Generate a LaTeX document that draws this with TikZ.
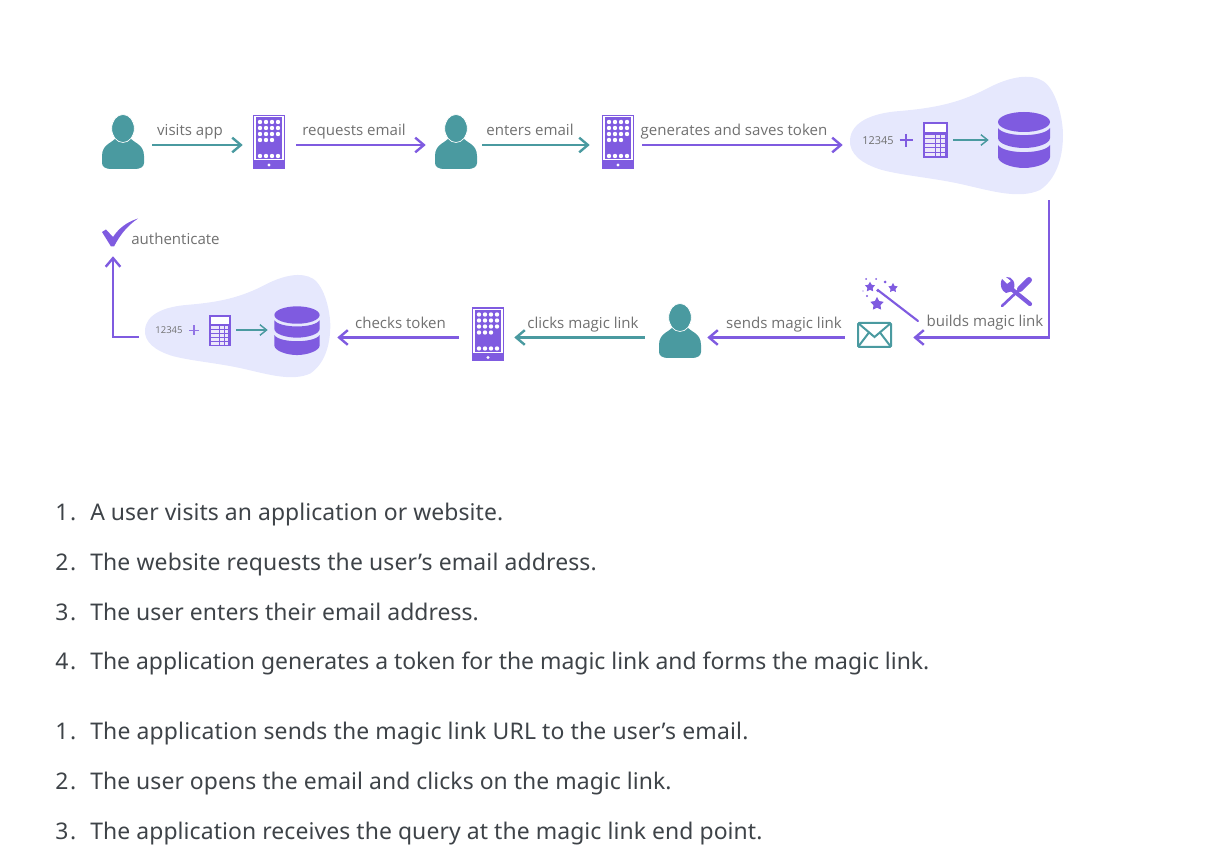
\documentclass[tikz,border=0pt]{standalone}
\usepackage{fontspec}
\setmainfont{Open Sans}
\newfontfamily\listfont{Noto Sans}
\usetikzlibrary{arrows.meta,shapes.geometric}
\definecolor{teal1}{HTML}{4A9AA0}
\definecolor{purp}{HTML}{7F5BE0}
\definecolor{blobc}{HTML}{E6E8FD}
\definecolor{gtext}{HTML}{707070}
\definecolor{ltext}{HTML}{3E4348}
\tikzset{
 x=0.75pt,y=-0.75pt,
 lab/.style={font=\fontsize{11.3}{14}\selectfont,text=gtext,inner sep=0pt,anchor=base},
 tiplab/.style={font=\fontsize{8.2}{9}\selectfont,text=gtext,inner sep=0pt},
 parr/.style={draw=purp,line width=2.1pt,-{Straight Barb[length=6.5pt,width=11pt,line width=1.8pt]}},
 tarr/.style={draw=teal1,line width=2.1pt,-{Straight Barb[length=6.5pt,width=11pt,line width=1.8pt]}},
 marr/.style={draw=teal1,line width=1.2pt,-{Straight Barb[length=5pt,width=8pt,line width=1.1pt]}},
 anchorpt/.style={inner sep=0pt,minimum size=0pt},
 listnum/.style={font=\listfont\fontsize{17.2}{20}\selectfont\addfontfeature{LetterSpace=8},text=ltext,inner sep=0pt,anchor=base west},
 listtxt/.style={font=\listfont\fontsize{17.2}{20}\selectfont,text=ltext,inner sep=0pt,anchor=base west},
 person/.pic={
  \fill[teal1] (-7,7) .. controls (-9,13) and (-21,13) .. (-21,26) -- (-21,33) .. controls (-21,37) and (-17,39) .. (-12,39) -- (12,39) .. controls (17,39) and (21,37) .. (21,33) -- (21,26) .. controls (21,13) and (9,13) .. (7,7) -- cycle;
  \filldraw[fill=teal1,draw=white,line width=0.5pt] (0,-1.5) ellipse [x radius=11.3,y radius=14];
 },
 tablet/.pic={
  \fill[purp] (-16,-27) rectangle (16,27);
  \fill[white] (-14.6,-25.6) rectangle (14.6,18.5);
  \fill[purp] (-13.4,-24.6) rectangle (13.4,17.5);
  \foreach \r in {0,1,2}{\foreach \c in {0,1,2,3}{\fill[white] (-9+\c*6,-20+\r*6) circle (2.2);}}
  \foreach \c in {0,1,2}{\fill[white] (-9+\c*6,-2) circle (2.2);}
  \foreach \c in {0,1,2,3}{\fill[white] (-9+\c*6,14) circle (2.2);}
  \fill[white] (0,23) circle (1.6);
 },
 calc/.pic={
  \fill[purp] (0,0) rectangle (25,36);
  \fill[white] (2.2,2.5) rectangle (22.8,10);
  \foreach \r in {0,1,2,3,4}{\foreach \c in {0,1,2,3}{\fill[white!85!purp] (2.2+\c*5.25,13+\r*4.4) rectangle ++(4.3,3.4);}}
 },
 dbase/.pic={
  \fill[purp] (-26,-8) arc[start angle=180,end angle=0,x radius=26,y radius=10] arc[start angle=0,end angle=-180,x radius=26,y radius=10] -- cycle;
  \fill[purp] (-26,-2) .. controls (-20,7.5) and (20,7.5) .. (26,-2) -- (26,8) .. controls (26,14) and (12,18) .. (0,18) .. controls (-12,18) and (-26,14) .. (-26,8) -- cycle;
  \fill[purp] (-26,15) .. controls (-20,24.5) and (20,24.5) .. (26,15) -- (26,27) .. controls (26,33) and (12,38) .. (0,38) .. controls (-12,38) and (-26,33) .. (-26,27) -- cycle;
 },
 blobshape/.pic={
  \fill[blobc] (0,0) .. controls (1,-18) and (22,-27) .. (50,-29)
   .. controls (85,-32) and (110,-37) .. (140,-53)
   .. controls (160,-63) and (180,-67) .. (193,-59)
   .. controls (207,-50) and (213,-20) .. (213,-5)
   .. controls (213,20) and (205,40) .. (190,50)
   .. controls (170,59) and (145,52) .. (115,45)
   .. controls (85,38) and (55,36) .. (32,30)
   .. controls (12,24) and (-1,14) .. (0,0) -- cycle;
 },
 starnode/.style={shape=star,star points=5,star point ratio=1.9,fill=purp,inner sep=0pt},
}
\begin{document}
\begin{tikzpicture}
\useasboundingbox (0,0) rectangle (1208,862);
% first row
\pic at (123,130) {person};
\pic at (269,142) {tablet};
\pic at (456,130) {person};
\pic at (618,142) {tablet};
\node[anchorpt] (a1s) at (152,145) {}; \node[anchorpt] (a1e) at (243,145) {};
\node[anchorpt] (a2s) at (296,145) {}; \node[anchorpt] (a2e) at (426,145) {};
\node[anchorpt] (a3s) at (482,145) {}; \node[anchorpt] (a3e) at (590,145) {};
\node[anchorpt] (a4s) at (642,145) {}; \node[anchorpt] (a4e) at (843,145) {};
\draw[tarr] (a1s) -- (a1e);
\draw[parr] (a2s) -- (a2e);
\draw[tarr] (a3s) -- (a3e);
\draw[parr] (a4s) -- (a4e);
\node[lab] (l1) at (190,135.5) {visits app};
\node[lab] (l2) at (354,135.5) {requests email};
\node[lab] (l3) at (530,135.5) {enters email};
\node[lab] (l4) at (734,135.5) {generates and saves token};
% blob 1
\pic at (850,140) {blobshape};
\node[tiplab] (n1) at (878,140.5) {12345};
\draw[purp,line width=1.5pt] (899.5,140.5) -- (913,140.5) (906,134) -- (906,147);
\pic at (923,122) {calc};
\node[anchorpt] (m1s) at (953,140) {}; \node[anchorpt] (m1e) at (989,140) {};
\draw[marr] (m1s) -- (m1e);
\pic at (1024,130) {dbase};
% return path
\node[anchorpt] (b1s) at (1049,200) {}; \coordinate (b1c) at (1049,337.5); \node[anchorpt] (b1e) at (913,337.5) {};
\draw[parr,line width=1.7pt] (b1s) -- (b1c) -- (b1e);
\node[lab] (l5) at (985,326.5) {builds magic link};
% tools
\draw[purp,line width=3.2pt,line cap=round] (1030,304) -- (1009,287);
\fill[purp] (1002,279) -- (1007,284) -- (1011,281) -- (1006,277) .. controls (1012,276) and (1017,283) .. (1013,291) -- (1006,293) .. controls (1002,291) and (999,286) .. (1002,279) -- cycle;
\draw[purp,line width=2pt,line cap=round] (1002,306) -- (1020,289);
\draw[purp,line width=4.5pt,line cap=round] (1020,289) -- (1029,280);
% wand
\draw[purp,line width=1.6pt,line cap=round] (879,291) -- (918,321);
\node[starnode,minimum size=8pt] (st1) at (870,287) {};
\node[starnode,minimum size=7.5pt] (st2) at (893,288) {};
\node[starnode,minimum size=10.5pt] (st3) at (877,304) {};
\fill[purp] (866,279) circle (1) (876,279) circle (1) (885,282) circle (1.5) (867,296) circle (1.2) (863,291) circle (0.7) (878,290.5) circle (1.8);
% envelope
\draw[teal1,line width=1.5pt,rounded corners=1pt] (858,323) rectangle (891,347);
\draw[teal1,line width=1.5pt] (858,323) -- (874.5,337) -- (891,323) (858,347) -- (869,332.5) (891,347) -- (880,332.5);
% second row
\node[anchorpt] (c1s) at (845,337.5) {}; \node[anchorpt] (c1e) at (707,337.5) {};
\node[anchorpt] (c2s) at (645,337.5) {}; \node[anchorpt] (c2e) at (514,337.5) {};
\node[anchorpt] (c3s) at (459,337.5) {}; \node[anchorpt] (c3e) at (337,337.5) {};
\draw[parr] (c1s) -- (c1e);
\draw[tarr] (c2s) -- (c2e);
\draw[parr] (c3s) -- (c3e);
\node[lab] (l6) at (784,329) {sends magic link};
\node[lab] (l7) at (583,328.5) {clicks magic link};
\node[lab] (l8) at (400.5,328.5) {checks token};
\pic at (680,319) {person};
\pic at (488,334.5) {tablet};
% blob 2
\pic[scale=0.87] at (145,330) {blobshape};
\node[tiplab,font=\fontsize{7.1}{8}\selectfont] (n2) at (169,330.5) {12345};
\draw[purp!85!white,line width=1.3pt] (189,330.5) -- (199,330.5) (194,325.5) -- (194,335.5);
\pic[scale=0.87] at (209,315) {calc};
\node[anchorpt] (m2s) at (236,330) {}; \node[anchorpt] (m2e) at (268,330) {};
\draw[marr] (m2s) -- (m2e);
\pic[scale=0.87] at (297,322) {dbase};
% authenticate
\node[anchorpt] (d1s) at (139,337) {}; \coordinate (d1c) at (113,337); \node[anchorpt] (d1e) at (113,256) {};
\draw[parr] (d1s) -- (d1c) -- (d1e);
\fill[purp] (102,232) -- (106,229.5) -- (113,237) .. controls (119,228) and (127,222) .. (138,218.5) .. controls (127,226) and (120,235) .. (114,246.5) -- (111,246.5) -- cycle;
\node[lab] (l9) at (175.5,244.5) {authenticate};
% list
\foreach \yy/\num/\ls/\txt in {
 521/1./0.33/A user visits an application or website.,
 570.5/2./0.66/The website requests the user’s email address.,
 620.5/3./0.23/The user enters their email address.,
 670/4./0/The application generates a token for the magic link and forms the magic link.,
 740/1./0.78/The application sends the magic link URL to the user’s email.,
 790/2./0.24/The user opens the email and clicks on the magic link.,
 839.5/3./0.4/The application receives the query at the magic link end point.}{
 \node[listnum] at (55,\yy) {\num};
 \node[listtxt] at (90,\yy) {\addfontfeature{LetterSpace=\ls}\txt};
}
\end{tikzpicture}
\end{document}
